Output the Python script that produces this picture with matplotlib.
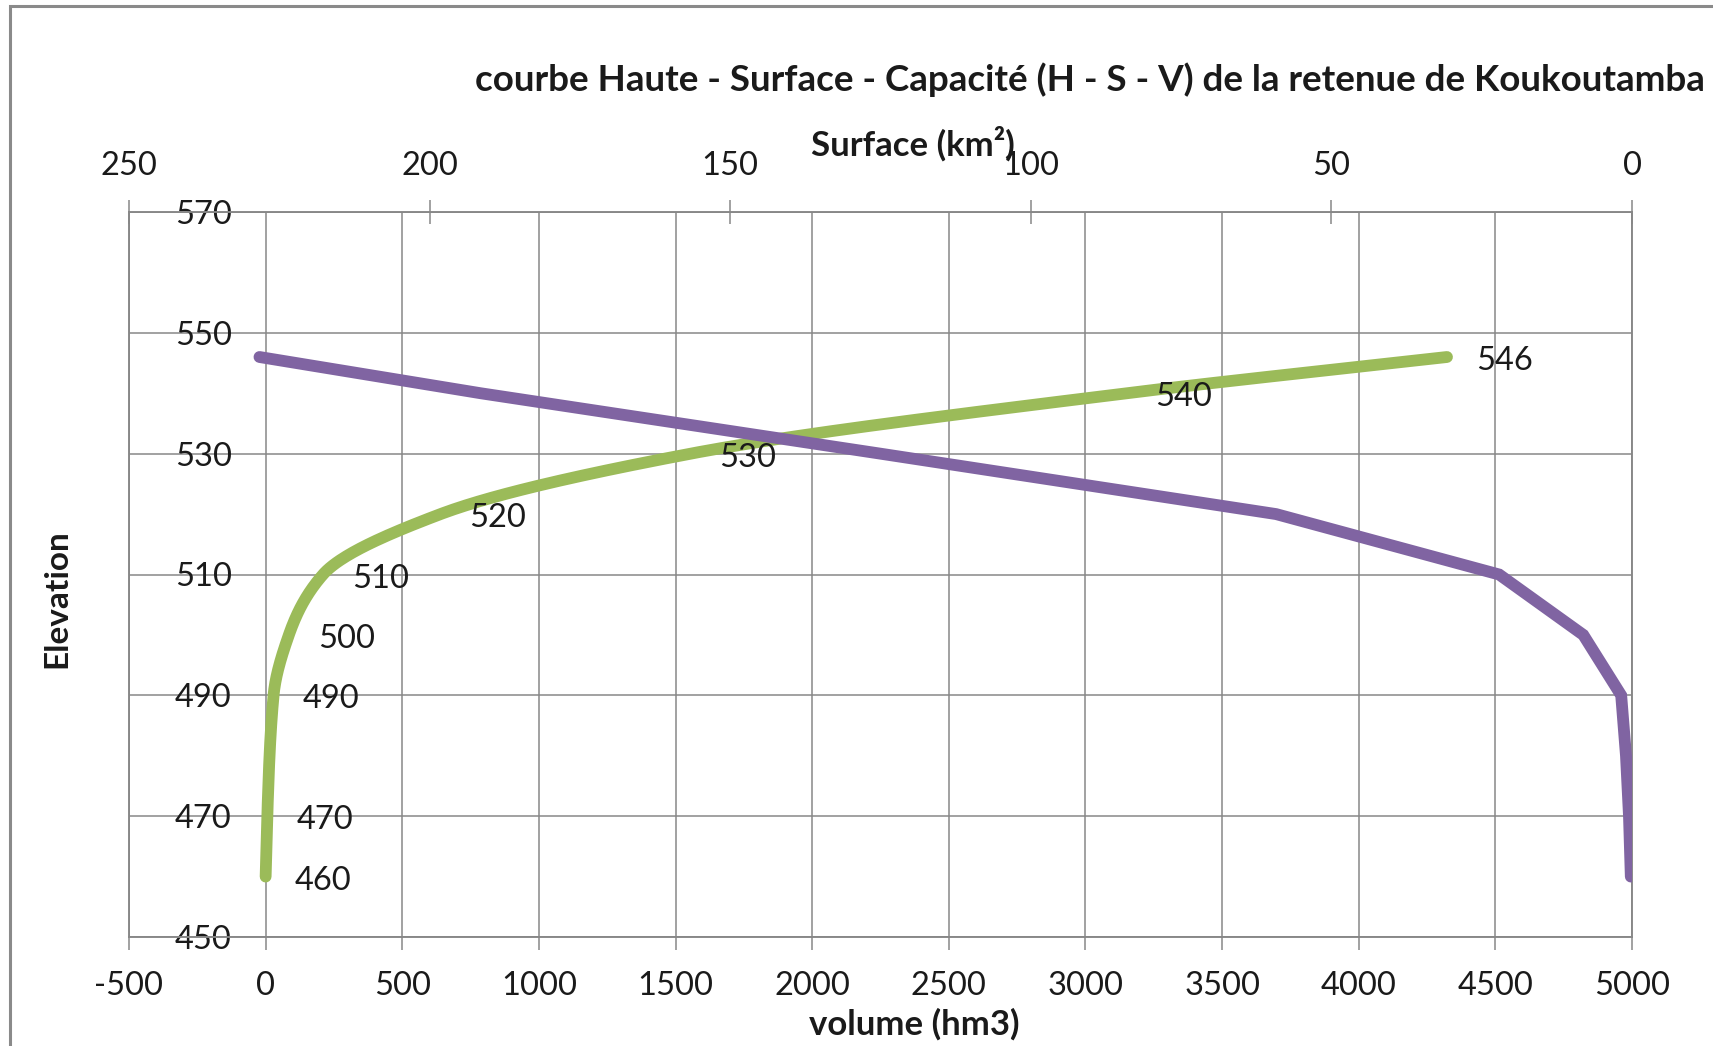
import matplotlib
matplotlib.use("Agg")
import matplotlib.pyplot as plt
import numpy as np
from matplotlib.patches import Rectangle

plt.rcParams['font.family'] = ['Lato', 'DejaVu Sans']

# ---- data ----
green_elev = [460, 470, 490, 500, 510, 520, 530, 540, 546]
green_vol = [0, 6, 29, 85, 210, 640, 1555, 3150, 4323]

purple_elev = [460, 470, 480, 490, 500, 510, 520, 530, 540, 546]
purple_surf = [0.2, 0.5, 1.0, 1.8, 8.1, 22.1, 59.2, 125.0, 191.5, 228.3]

vol_ticks = [-500, 0, 500, 1000, 1500, 2000, 2500, 3000, 3500, 4000, 4500, 5000]
surf_ticks = [250, 200, 150, 100, 50, 0]
elev_ticks = [450, 470, 490, 510, 530, 550, 570]

title = "courbe Haute - Surface - Capacité (H - S - V) de la retenue de Koukoutamba"

W, H = 1713, 1046
GRID = '#878787'
GREEN = '#9BBB59'
PURPLE = '#8064A2'
TXT = '#1a1a1a'


def pchip_smooth(y, x, n=400):
    """Smooth monotone rendering of x as a function of y (Fritsch-Carlson)."""
    y = np.asarray(y, float)
    x = np.asarray(x, float)
    h = np.diff(y)
    d = np.diff(x) / h
    m = np.zeros_like(x)
    for k in range(1, len(x) - 1):
        if d[k - 1] * d[k] <= 0:
            m[k] = 0.0
        else:
            w1 = 2 * h[k] + h[k - 1]
            w2 = h[k] + 2 * h[k - 1]
            m[k] = (w1 + w2) / (w1 / d[k - 1] + w2 / d[k])
    m[0] = d[0]
    m[-1] = d[-1]
    yy = np.linspace(y[0], y[-1], n)
    idx = np.clip(np.searchsorted(y, yy) - 1, 0, len(y) - 2)
    t = (yy - y[idx]) / h[idx]
    h00 = 2 * t ** 3 - 3 * t ** 2 + 1
    h10 = t ** 3 - 2 * t ** 2 + t
    h01 = -2 * t ** 3 + 3 * t ** 2
    h11 = t ** 3 - t ** 2
    xx = h00 * x[idx] + h10 * h[idx] * m[idx] + h01 * x[idx + 1] + h11 * h[idx] * m[idx + 1]
    return xx, yy


fig = plt.figure(figsize=(W / 100, H / 100), dpi=100)
L, R, T, B = 129, 1632, 212, 937
ax = fig.add_axes([L / W, 1 - B / H, (R - L) / W, (B - T) / H])

ax.set_xlim(-500, 5000)
ax.set_ylim(450, 570)
ax.set_xticks(vol_ticks)
ax.set_xticklabels([str(v) for v in vol_ticks])
ax.set_yticks(elev_ticks)
ax.set_yticklabels([str(v) for v in elev_ticks])
ax.grid(True, color=GRID, lw=1.1)
ax.set_axisbelow(True)
for s in ax.spines.values():
    s.set_color(GRID)
    s.set_linewidth(1.1)
ax.tick_params(axis='x', direction='out', length=9.5, width=1.1, color=GRID,
               labelsize=23.5, pad=15, labelcolor=TXT)
ax.tick_params(axis='y', length=0, labelsize=23.5, pad=-74, labelcolor=TXT)

# green curve (volume)
gx, gy = pchip_smooth(green_elev, green_vol)
ax.plot(gx, gy, color=GREEN, lw=8.5, solid_capstyle='round', zorder=3)

# secondary top axis (surface)
ax2 = ax.twiny()
ax2.set_xlim(250, 0)
ax2.set_xticks(surf_ticks)
ax2.set_xticklabels([str(v) for v in surf_ticks])
for s in ax2.spines.values():
    s.set_color(GRID)
    s.set_linewidth(1.1)
ax2.tick_params(axis='x', direction='inout', length=17, width=1.1, color=GRID,
                labelsize=23.5, pad=14, labelcolor=TXT)
ax2.plot(purple_surf, purple_elev, color=PURPLE, lw=8.5, solid_capstyle='round',
         solid_joinstyle='miter', zorder=3)

# data labels of the green series
for v, e in zip(green_vol, green_elev):
    ax2.annotate(str(e), xy=(v, e), xycoords=ax.transData, xytext=(29, -4),
                 textcoords='offset pixels', ha='left', va='center',
                 fontsize=23.5, color=TXT, zorder=5)

# titles
fig.text(1090 / W, 1 - 80 / H, title, ha='center', va='center', fontsize=26.5,
         fontweight='bold', color=TXT)
fig.text(913 / W, 1 - 144 / H, "Surface (km²)", ha='center', va='center', fontsize=25,
         fontweight='bold', color=TXT)
fig.text(914 / W, 1 - 1024 / H, "volume (hm3)", ha='center', va='center', fontsize=25,
         fontweight='bold', color=TXT)
fig.text(57 / W, 1 - 599 / H, "Elevation", ha='center', va='center', fontsize=24,
         fontweight='bold', rotation=90, color=TXT)

# chart area border (top and left visible)
fig.patches.append(Rectangle((10 / W, -0.1), 2.0, 1.1 - 6 / H, transform=fig.transFigure,
                             fill=False, edgecolor='#8a8a8a', lw=2.2))

fig.savefig('out.png', dpi=100, facecolor='white')
